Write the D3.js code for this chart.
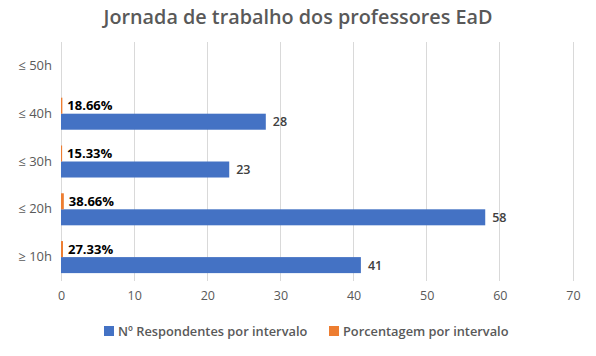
<!DOCTYPE html>
<html><head><meta charset="utf-8">
<script src="https://cdn.jsdelivr.net/npm/d3@7"></script>
<style>body{margin:0;background:#fff}svg{display:block}</style>
</head><body>
<svg id="c" width="596" height="356"></svg>
<script>
const categories = ["≤ 50h", "≤ 40h", "≤ 30h", "≤ 20h", "≥ 10h"];
const respondentes = [null, 28, 23, 58, 41];
const porcentagem = [null, 0.1866, 0.1533, 0.3866, 0.2733];
const xTicks = [0, 10, 20, 30, 40, 50, 60, 70];
const seriesNames = ["Nº Respondentes por intervalo", "Porcentagem por intervalo"];
const colors = ["#4472C4", "#ED7D31"];
const title = "Jornada de trabalho dos professores EaD";

(function () {
const svg = d3.select("#c");
const font = "'Open Sans', 'Noto Sans', sans-serif";
const mLeft = 61, mRight = 573, mTop = 42, mBottom = 281;

const x = d3.scaleLinear().domain([0, 70]).range([mLeft, mRight]);
const y = d3.scaleBand().domain(categories).range([mTop, mBottom]).paddingInner(0.33).paddingOuter(0.165);
const inner = d3.scaleBand().domain([1, 0]).range([0, y.bandwidth()]);

svg.append("text").attr("x", 298).attr("y", 24).attr("text-anchor", "middle")
  .attr("font-family", font).attr("font-size", 19.8).attr("font-weight", 600)
  .attr("fill", "#595959").text(title);

// gridlines
svg.append("g").selectAll("line").data(xTicks).join("line")
  .attr("x1", d => x(d)).attr("x2", d => x(d)).attr("y1", mTop).attr("y2", mBottom)
  .attr("stroke", "#d9d9d9").attr("stroke-width", 1).attr("shape-rendering", "crispEdges");

// x axis
const xa = svg.append("g").attr("transform", `translate(0,${mBottom})`)
  .call(d3.axisBottom(x).tickValues(xTicks).tickSize(0).tickPadding(10));
xa.select(".domain").remove();
xa.selectAll("text").attr("font-family", font).attr("font-size", 12.5).attr("fill", "#595959");

// y axis
const ya = svg.append("g").attr("transform", `translate(${mLeft},0)`)
  .call(d3.axisLeft(y).tickSize(0).tickPadding(9));
ya.select(".domain").remove();
ya.selectAll("text").attr("font-family", font).attr("font-size", 13).attr("fill", "#595959");

const rows = categories.map((c, i) => ({c, r: respondentes[i], p: porcentagem[i]}));

// respondentes bars
svg.append("g").selectAll("rect").data(rows.filter(d => d.r != null)).join("rect")
  .attr("x", x(0)).attr("y", d => y(d.c) + inner(0)).attr("height", inner.bandwidth())
  .attr("width", d => x(d.r) - x(0)).attr("fill", colors[0]);
svg.append("g").selectAll("text").data(rows.filter(d => d.r != null)).join("text")
  .attr("x", d => x(d.r) + 7).attr("y", d => y(d.c) + inner(0) + inner.bandwidth() / 2)
  .attr("dy", "0.36em").attr("font-family", font).attr("font-size", 12.5).attr("font-weight", 600)
  .attr("fill", "#404040").text(d => d.r);

// porcentagem bars
svg.append("g").selectAll("rect").data(rows.filter(d => d.p != null)).join("rect")
  .attr("x", x(0)).attr("y", d => y(d.c) + inner(1)).attr("height", inner.bandwidth())
  .attr("width", d => x(d.p) - x(0)).attr("fill", colors[1]);
svg.append("g").selectAll("text").data(rows.filter(d => d.p != null)).join("text")
  .attr("x", d => x(d.p) + 5).attr("y", d => y(d.c) + inner(1) + inner.bandwidth() / 2)
  .attr("dy", "0.36em").attr("font-family", font).attr("font-size", 13).attr("font-weight", 700)
  .attr("fill", "#000").text(d => (d.p * 100).toFixed(2) + "%");

// legend
const lg = svg.append("g").attr("font-family", font).attr("font-size", 12.8).attr("fill", "#595959");
const legX = [104, 329];
seriesNames.forEach((n, i) => {
  lg.append("rect").attr("x", legX[i]).attr("y", 326).attr("width", 10).attr("height", 10).attr("fill", colors[i]);
  lg.append("text").attr("x", legX[i] + 14).attr("y", 331).attr("dy", "0.36em").attr("font-weight", 600).text(n);
});
})();
</script>
</body></html>
